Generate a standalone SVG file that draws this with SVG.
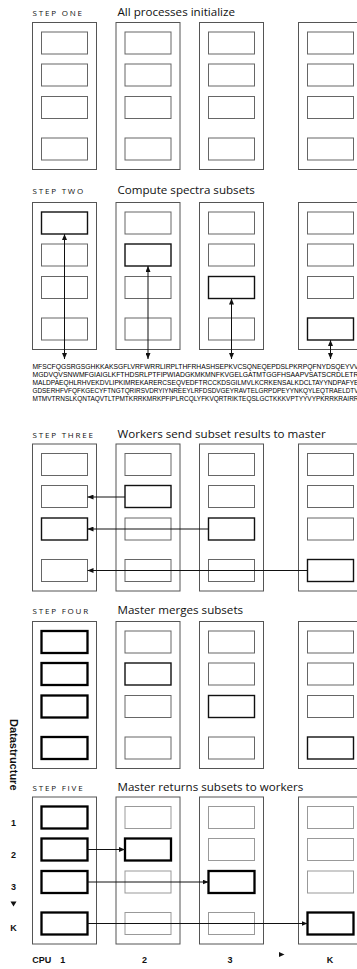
<svg xmlns="http://www.w3.org/2000/svg" width="357" height="969" viewBox="0 0 357 969">
<defs>
<style>
.bg{fill:#fff}
.outer{fill:none;stroke:#555;stroke-width:1}
.box{fill:none;stroke:#666;stroke-width:1}
.faint{fill:none;stroke:#999;stroke-width:1}
.hl1{fill:none;stroke:#111;stroke-width:1.4}
.hl2{fill:none;stroke:#000;stroke-width:2.3}
.step{font-family:"Open Sans","DejaVu Sans",sans-serif;font-size:8px;letter-spacing:1.8px;fill:#111}
.title{font-family:"Open Sans","DejaVu Sans",sans-serif;font-size:11.6px;fill:#111}
.seq{font-family:"Liberation Sans","Arial",sans-serif;font-size:7.2px;fill:#000}
.lab{font-family:"Liberation Sans","Arial",sans-serif;font-size:9px;font-weight:bold;fill:#111}
.vlab{font-family:"Liberation Sans","Arial",sans-serif;font-size:11px;font-weight:bold;fill:#111}
.con{fill:none;stroke:#111;stroke-width:1}
</style>
<marker id="ah" viewBox="0 0 6 5" refX="6" refY="2.5" markerWidth="6" markerHeight="5" markerUnits="userSpaceOnUse" orient="auto-start-reverse">
<path d="M0,0 L6,2.5 L0,5 Z" fill="#111"/>
</marker>
</defs>
<rect class="bg" x="0" y="0" width="357" height="969"/>

<!-- STEP ONE -->
<g id="step1">
<text class="step" x="32.5" y="16">STEP ONE</text>
<text class="title" x="117.5" y="16">All processes initialize</text>
<g id="s1c1"><rect class="outer" x="32.5" y="22.5" width="64" height="147"/>
<rect class="box" x="41.5" y="32" width="46" height="22"/><rect class="box" x="41.5" y="64" width="46" height="22"/><rect class="box" x="41.5" y="96.5" width="46" height="22"/><rect class="box" x="41.5" y="138" width="46" height="22"/></g>
<g id="s1c2"><rect class="outer" x="116" y="22.5" width="64" height="147"/>
<rect class="box" x="125" y="32" width="46" height="22"/><rect class="box" x="125" y="64" width="46" height="22"/><rect class="box" x="125" y="96.5" width="46" height="22"/><rect class="box" x="125" y="138" width="46" height="22"/></g>
<g id="s1c3"><rect class="outer" x="199.5" y="22.5" width="64" height="147"/>
<rect class="box" x="208.5" y="32" width="46" height="22"/><rect class="box" x="208.5" y="64" width="46" height="22"/><rect class="box" x="208.5" y="96.5" width="46" height="22"/><rect class="box" x="208.5" y="138" width="46" height="22"/></g>
<g id="s1c4"><rect class="outer" x="298.5" y="22.5" width="64" height="147"/>
<rect class="box" x="307.5" y="32" width="46" height="22"/><rect class="box" x="307.5" y="64" width="46" height="22"/><rect class="box" x="307.5" y="96.5" width="46" height="22"/><rect class="box" x="307.5" y="138" width="46" height="22"/></g>
</g>

<!-- STEP TWO -->
<g id="step2">
<text class="step" x="32.5" y="194">STEP TWO</text>
<text class="title" x="117.5" y="194">Compute spectra subsets</text>
<g id="s2c1"><rect class="outer" x="32.5" y="202.5" width="64" height="147"/>
<rect class="hl1" x="41.5" y="212" width="46" height="22"/><rect class="box" x="41.5" y="244" width="46" height="22"/><rect class="box" x="41.5" y="276.5" width="46" height="22"/><rect class="box" x="41.5" y="318" width="46" height="22"/></g>
<g id="s2c2"><rect class="outer" x="116" y="202.5" width="64" height="147"/>
<rect class="box" x="125" y="212" width="46" height="22"/><rect class="hl1" x="125" y="244" width="46" height="22"/><rect class="box" x="125" y="276.5" width="46" height="22"/><rect class="box" x="125" y="318" width="46" height="22"/></g>
<g id="s2c3"><rect class="outer" x="199.5" y="202.5" width="64" height="147"/>
<rect class="box" x="208.5" y="212" width="46" height="22"/><rect class="box" x="208.5" y="244" width="46" height="22"/><rect class="hl1" x="208.5" y="276.5" width="46" height="22"/><rect class="box" x="208.5" y="318" width="46" height="22"/></g>
<g id="s2c4"><rect class="outer" x="298.5" y="202.5" width="64" height="147"/>
<rect class="box" x="307.5" y="212" width="46" height="22"/><rect class="box" x="307.5" y="244" width="46" height="22"/><rect class="box" x="307.5" y="276.5" width="46" height="22"/><rect class="hl1" x="307.5" y="318" width="46" height="22"/></g>
<g id="sequences">
<text class="seq" x="32.5" y="369" textLength="326" lengthAdjust="spacingAndGlyphs">MFSCFQGSRGSGHKKAKSGFLVRFWRRLIRPLTHFRHASHSEPKVCSQNEQEPDSLPKRPQFNYDSQEYVV</text>
<text class="seq" x="32.5" y="377" textLength="326" lengthAdjust="spacingAndGlyphs">MGDVQVSNWMFGIAIGLKFTHDSRLPTFIPWIADGKMKMNFKVGELGATMTGGFHSAAPVSATSCRDLETR</text>
<text class="seq" x="32.5" y="385" textLength="326" lengthAdjust="spacingAndGlyphs">MALDPAEQHLRHVEKDVLIPKIMREKARERCSEQVEDFTRCCKDSGILMVLKCRKENSALKDCLTAYYNDPAFYE</text>
<text class="seq" x="32.5" y="393" textLength="326" lengthAdjust="spacingAndGlyphs">GDSERHFVFQFKGECYFTNGTQRIRSVDRYIYNREEYLRFDSDVGEYRAVTELGRPDPEYYNKQYLEQTRAELDTV</text>
<text class="seq" x="32.5" y="401" textLength="326" lengthAdjust="spacingAndGlyphs">MTMVTRNSLKQNTAQVTLTPMTKRRKMRKPFIPLRCQLYFKVQRTRIKTEQSLGCTKKKVPTYYVYPKRRKRAIRR</text>
</g>
</g>

<!-- STEP THREE -->
<g id="step3">
<text class="step" x="32.5" y="437.5">STEP THREE</text>
<text class="title" x="117.5" y="437.5">Workers send subset results to master</text>
<g id="s3c1"><rect class="outer" x="32.5" y="444" width="64" height="147"/>
<rect class="box" x="41.5" y="453.5" width="46" height="22"/><rect class="box" x="41.5" y="485.5" width="46" height="22"/><rect class="hl1" x="41.5" y="518" width="46" height="22"/><rect class="box" x="41.5" y="559.5" width="46" height="22"/></g>
<g id="s3c2"><rect class="outer" x="116" y="444" width="64" height="147"/>
<rect class="box" x="125" y="453.5" width="46" height="22"/><rect class="hl1" x="125" y="485.5" width="46" height="22"/><rect class="box" x="125" y="518" width="46" height="22"/><rect class="box" x="125" y="559.5" width="46" height="22"/></g>
<g id="s3c3"><rect class="outer" x="199.5" y="444" width="64" height="147"/>
<rect class="box" x="208.5" y="453.5" width="46" height="22"/><rect class="box" x="208.5" y="485.5" width="46" height="22"/><rect class="hl1" x="208.5" y="518" width="46" height="22"/><rect class="box" x="208.5" y="559.5" width="46" height="22"/></g>
<g id="s3c4"><rect class="outer" x="298.5" y="444" width="64" height="147"/>
<rect class="box" x="307.5" y="453.5" width="46" height="22"/><rect class="box" x="307.5" y="485.5" width="46" height="22"/><rect class="box" x="307.5" y="518" width="46" height="22"/><rect class="hl1" x="307.5" y="559.5" width="46" height="22"/></g>
</g>

<!-- STEP FOUR -->
<g id="step4">
<text class="step" x="32.5" y="614">STEP FOUR</text>
<text class="title" x="117.5" y="614">Master merges subsets</text>
<g id="s4c1"><rect class="outer" x="32.5" y="621.5" width="64" height="147"/>
<rect class="hl2" x="41.5" y="631" width="46" height="22"/><rect class="hl2" x="41.5" y="663" width="46" height="22"/><rect class="hl2" x="41.5" y="695.5" width="46" height="22"/><rect class="hl2" x="41.5" y="737" width="46" height="22"/></g>
<g id="s4c2"><rect class="outer" x="116" y="621.5" width="64" height="147"/>
<rect class="box" x="125" y="631" width="46" height="22"/><rect class="hl1" x="125" y="663" width="46" height="22"/><rect class="box" x="125" y="695.5" width="46" height="22"/><rect class="box" x="125" y="737" width="46" height="22"/></g>
<g id="s4c3"><rect class="outer" x="199.5" y="621.5" width="64" height="147"/>
<rect class="box" x="208.5" y="631" width="46" height="22"/><rect class="box" x="208.5" y="663" width="46" height="22"/><rect class="hl1" x="208.5" y="695.5" width="46" height="22"/><rect class="box" x="208.5" y="737" width="46" height="22"/></g>
<g id="s4c4"><rect class="outer" x="298.5" y="621.5" width="64" height="147"/>
<rect class="box" x="307.5" y="631" width="46" height="22"/><rect class="box" x="307.5" y="663" width="46" height="22"/><rect class="box" x="307.5" y="695.5" width="46" height="22"/><rect class="hl1" x="307.5" y="737" width="46" height="22"/></g>
</g>

<!-- STEP FIVE -->
<g id="step5">
<text class="step" x="32.5" y="790.5">STEP FIVE</text>
<text class="title" x="117.5" y="790.5">Master returns subsets to workers</text>
<g id="s5c1"><rect class="outer" x="32.5" y="797" width="64" height="147"/>
<rect class="hl2" x="41.5" y="806.5" width="46" height="22"/><rect class="hl2" x="41.5" y="838.5" width="46" height="22"/><rect class="hl2" x="41.5" y="871" width="46" height="22"/><rect class="hl2" x="41.5" y="912.5" width="46" height="22"/></g>
<g id="s5c2"><rect class="outer" x="116" y="797" width="64" height="147"/>
<rect class="faint" x="125" y="806.5" width="46" height="22"/><rect class="hl2" x="125" y="838.5" width="46" height="22"/><rect class="faint" x="125" y="871" width="46" height="22"/><rect class="faint" x="125" y="912.5" width="46" height="22"/></g>
<g id="s5c3"><rect class="outer" x="199.5" y="797" width="64" height="147"/>
<rect class="faint" x="208.5" y="806.5" width="46" height="22"/><rect class="faint" x="208.5" y="838.5" width="46" height="22"/><rect class="hl2" x="208.5" y="871" width="46" height="22"/><rect class="faint" x="208.5" y="912.5" width="46" height="22"/></g>
<g id="s5c4"><rect class="outer" x="298.5" y="797" width="64" height="147"/>
<rect class="faint" x="307.5" y="806.5" width="46" height="22"/><rect class="faint" x="307.5" y="838.5" width="46" height="22"/><rect class="faint" x="307.5" y="871" width="46" height="22"/><rect class="hl2" x="307.5" y="912.5" width="46" height="22"/></g>
</g>

<!-- Axis labels -->
<g id="labels">
<text class="vlab" transform="translate(10,719) rotate(90)">Datastructure</text>
<text class="lab" x="13.5" y="826" text-anchor="middle">1</text>
<text class="lab" x="13.5" y="857.5" text-anchor="middle">2</text>
<text class="lab" x="13.5" y="889.5" text-anchor="middle">3</text>
<polygon points="10.5,901.5 16.5,901.5 13.5,906.5" fill="#111"/>
<text class="lab" x="13.5" y="931" text-anchor="middle">K</text>
<text class="lab" x="32.3" y="962.5">CPU</text>
<text class="lab" x="62.7" y="962.5" text-anchor="middle">1</text>
<text class="lab" x="144.5" y="962.5" text-anchor="middle">2</text>
<text class="lab" x="230" y="962.5" text-anchor="middle">3</text>
<polygon points="279,952 284.5,954.5 279,957" fill="#111"/>
<text class="lab" x="330" y="962.5" text-anchor="middle">K</text>
</g>

<!-- Connectors -->
<g id="connectors">
<line class="con" x1="64.5" y1="359" x2="64.5" y2="234" marker-start="url(#ah)" marker-end="url(#ah)"/>
<line class="con" x1="148" y1="359" x2="148" y2="266" marker-start="url(#ah)" marker-end="url(#ah)"/>
<line class="con" x1="231.5" y1="359" x2="231.5" y2="298.5" marker-start="url(#ah)" marker-end="url(#ah)"/>
<line class="con" x1="330.5" y1="359" x2="330.5" y2="340" marker-start="url(#ah)" marker-end="url(#ah)"/>
<line class="con" x1="125" y1="497" x2="87.5" y2="497" marker-end="url(#ah)"/>
<line class="con" x1="208.5" y1="529" x2="87.5" y2="529" marker-end="url(#ah)"/>
<line class="con" x1="307.5" y1="570.5" x2="87.5" y2="570.5" marker-end="url(#ah)"/>
<line class="con" x1="87.5" y1="849.5" x2="125" y2="849.5" marker-end="url(#ah)"/>
<line class="con" x1="87.5" y1="882" x2="208.5" y2="882" marker-end="url(#ah)"/>
<line class="con" x1="87.5" y1="923.5" x2="307.5" y2="923.5" marker-end="url(#ah)"/>
</g>
</svg>
